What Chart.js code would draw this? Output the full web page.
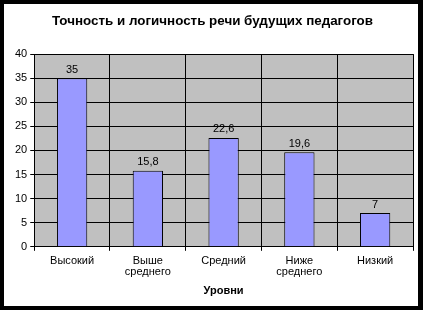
<!DOCTYPE html>
<html>
<head>
<meta charset="utf-8">
<script src="https://cdn.jsdelivr.net/npm/chart.js@4"></script>
<style>
  html, body { margin: 0; padding: 0; background: #000; }
  #wrap { width: 423px; height: 310px; }
</style>
</head>
<body>
<div id="wrap"><canvas id="levelsChart" width="423" height="310"></canvas></div>
<script>
// данные диаграммы
const categories = [['Высокий'], ['Выше', 'среднего'], ['Средний'], ['Ниже', 'среднего'], ['Низкий']];
const values = [35, 15.8, 22.6, 19.6, 7];
const yTicks = [0, 5, 10, 15, 20, 25, 30, 35, 40];

const FONT = 'Arial, "Liberation Sans", sans-serif';

// рамка и фон (черная рамка, белое поле)
const framePlugin = {
    id: 'frame',
    beforeDraw(chart) {
        const c = chart.ctx;
        c.save();
        c.fillStyle = '#000';
        c.fillRect(0, 0, chart.width, chart.height);
        c.fillStyle = '#fff';
        c.fillRect(4, 4, 414, 302);
        const a = chart.chartArea;
        c.fillStyle = '#c0c0c0';
        c.fillRect(a.left, a.top, a.right - a.left, a.bottom - a.top);
        c.restore();
    }
};

// подписи значений над столбцами
const valueLabels = {
    id: 'valueLabels',
    afterDatasetsDraw(chart) {
        const c = chart.ctx;
        const meta = chart.getDatasetMeta(0);
        c.save();
        c.font = '11px ' + FONT;
        c.fillStyle = '#000';
        c.textAlign = 'center';
        c.textBaseline = 'bottom';
        meta.data.forEach((bar, i) => {
            const txt = String(values[i]).replace('.', ',');
            c.fillText(txt, bar.x, bar.y - 3);
        });
        c.restore();
    }
};

const ctx = document.getElementById('levelsChart').getContext('2d');
new Chart(ctx, {
    type: 'bar',
    data: {
        labels: categories,
        datasets: [{
            data: values,
            backgroundColor: '#9999ff',
            borderColor: '#000',
            borderWidth: 1,
            categoryPercentage: 0.8,
            barPercentage: 0.5,
        }]
    },
    options: {
        responsive: false,
        animation: false,
        layout: { padding: { top: 0, left: 12, right: 10, bottom: 12 } },
        plugins: {
            legend: { display: false },
            tooltip: { enabled: false },
            title: {
                display: true,
                text: 'Точность и логичность речи будущих педагогов',
                color: '#000',
                font: { family: FONT, size: 13.4, weight: 'bold' },
                padding: { top: 13, bottom: 25 },
            },
        },
        scales: {
            x: {
                grid: { color: '#000', lineWidth: 1, offset: true, tickLength: 4, drawOnChartArea: true },
                border: { color: '#000' },
                ticks: {
                    color: '#000',
                    font: { family: FONT, size: 11, lineHeight: 1.0 },
                    maxRotation: 0,
                    padding: 5,
                },
                title: {
                    display: true,
                    text: 'Уровни',
                    color: '#000',
                    font: { family: FONT, size: 11, weight: 'bold' },
                    padding: { top: 2, bottom: 0 },
                },
            },
            y: {
                min: 0,
                max: 40,
                afterBuildTicks: (axis) => { axis.ticks = yTicks.map(v => ({ value: v })); },
                grid: { color: '#000', lineWidth: 1, tickLength: 4 },
                border: { color: '#000' },
                ticks: {
                    color: '#000',
                    font: { family: FONT, size: 11 },
                    padding: 3,
                },
            },
        },
    },
    plugins: [framePlugin, valueLabels],
});
</script>
</body>
</html>
